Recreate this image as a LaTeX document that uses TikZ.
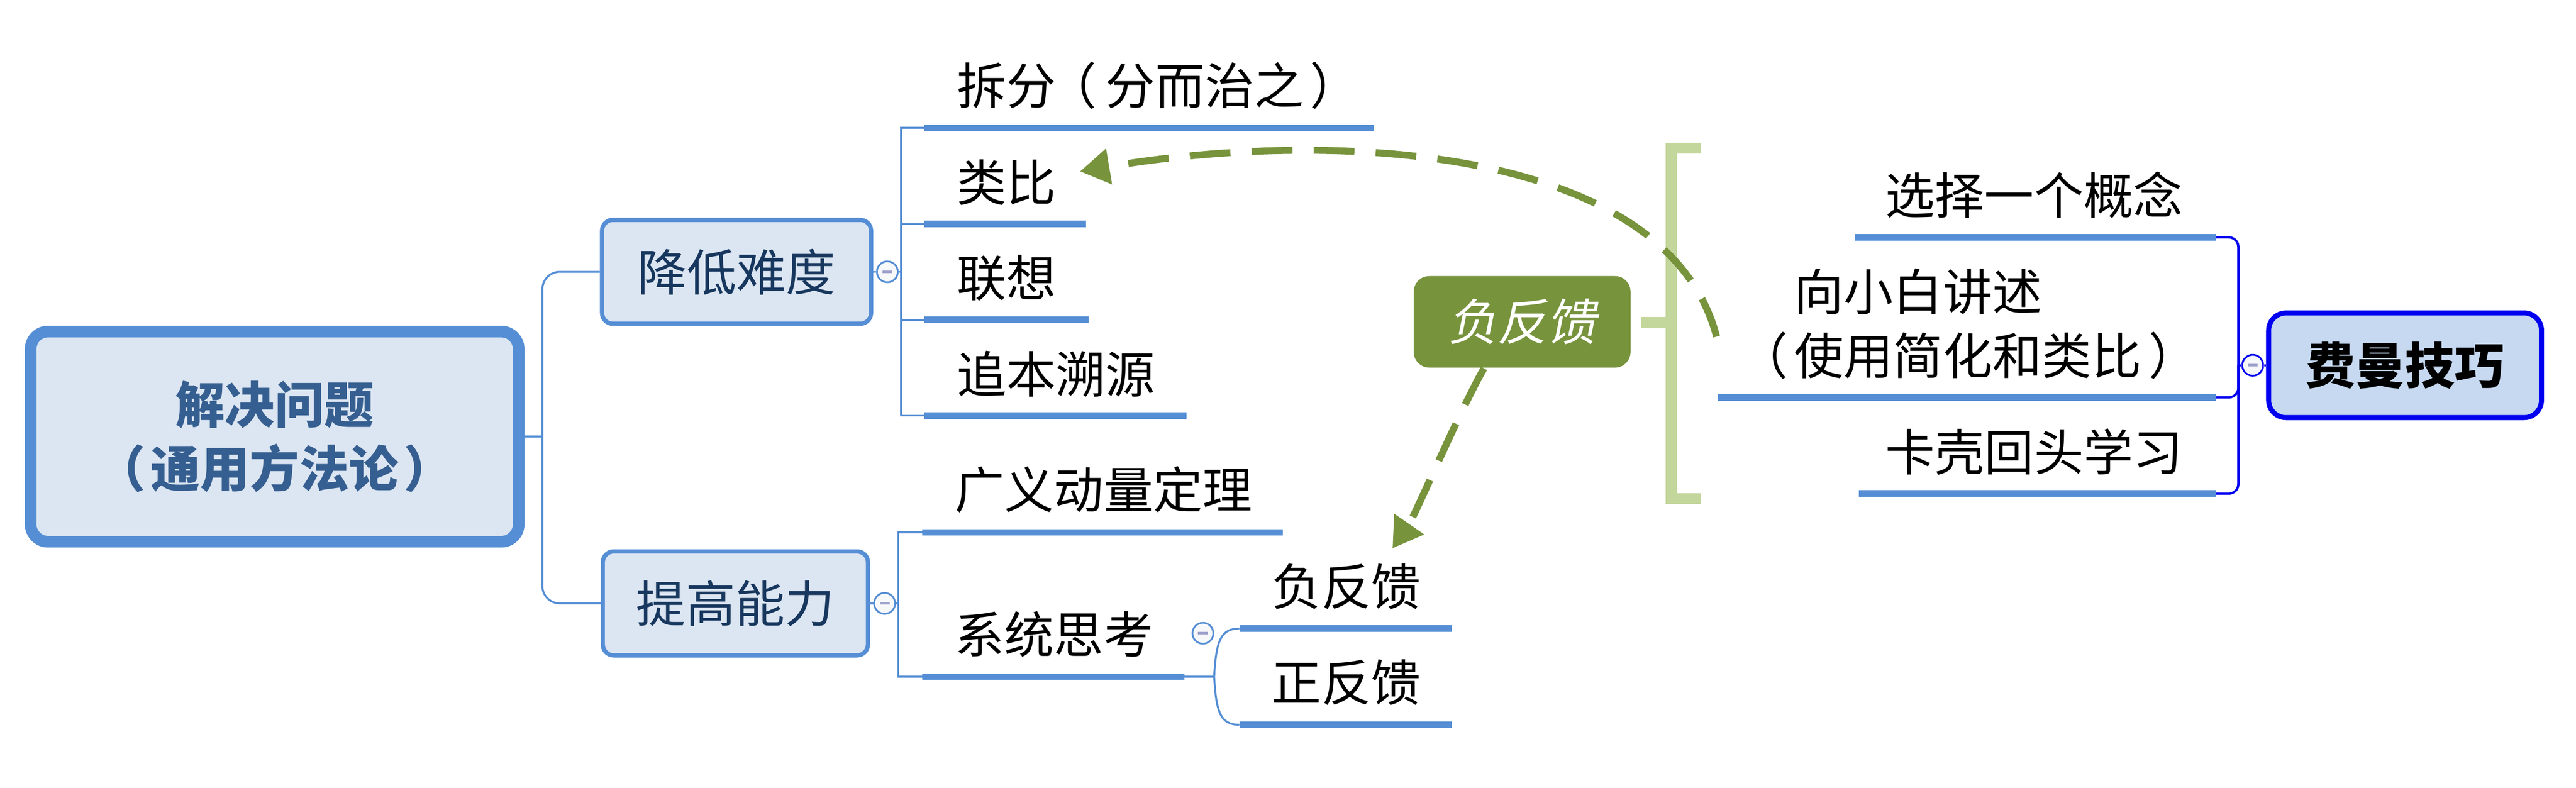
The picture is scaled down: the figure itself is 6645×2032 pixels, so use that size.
\documentclass[tikz,border=0pt]{standalone}
\usepackage{fontspec}
\setmainfont{Noto Sans CJK SC}
\newfontfamily\slantfont[FakeSlant=0.2]{Noto Sans CJK SC}
\usetikzlibrary{arrows.meta}
\definecolor{lineblue}{HTML}{558ED5}
\definecolor{boxfill}{HTML}{DCE6F2}
\definecolor{roottext}{HTML}{365F91}
\definecolor{subtext}{HTML}{17375E}
\definecolor{olive}{HTML}{77933C}
\definecolor{bracketgreen}{HTML}{C3D69B}
\definecolor{fmblue}{HTML}{0000F0}
\definecolor{fmfill}{HTML}{C6D9F1}
\definecolor{btnfill}{HTML}{F7F8FA}
\definecolor{btnminus}{HTML}{A0A4CC}
\newcommand\txtsize{\fontsize{12.8pt}{16.5pt}\selectfont}
\begin{document}
\begin{tikzpicture}[x=0.1pt,y=-0.1pt,
 rootbox/.style={draw=lineblue, line width=3pt, fill=boxfill, rounded corners=4.5pt, minimum width=125.9pt, minimum height=54.2pt, inner sep=0pt, align=center, font=\txtsize\bfseries, text=roottext},
 mainbox/.style={draw=lineblue, line width=1.1pt, fill=boxfill, rounded corners=2.8pt, minimum width=69.4pt, minimum height=26.8pt, inner sep=0pt, font=\txtsize, text=subtext},
 fmbox/.style={draw=fmblue, line width=1.3pt, fill=fmfill, rounded corners=4.5pt, minimum width=70.4pt, minimum height=27pt, inner sep=0pt, font=\txtsize\bfseries, text=black},
 greenbox/.style={fill=olive, rounded corners=4pt, minimum width=55.9pt, minimum height=23.6pt, inner sep=0pt, font=\txtsize\slantfont, text=white},
 leaf/.style={inner sep=0pt, font=\txtsize, text=black},
 uline/.style={draw=lineblue, line width=1.7pt},
 conn/.style={draw=lineblue, line width=0.5pt},
 fconn/.style={draw=fmblue, line width=0.6pt},
 btn/.style={circle, draw=#1, line width=0.45pt, fill=btnfill, minimum size=5.4pt, inner sep=0pt,
   path picture={\fill[btnminus] ([xshift=-1.25pt,yshift=-0.35pt]path picture bounding box.center) rectangle ++(2.5pt,0.7pt);}},
 garrow/.style={draw=olive, line width=1.8pt, dash pattern=on 10.5pt off 5.5pt, -{Triangle[length=7.6pt,width=8.9pt]}},
]
\useasboundingbox (0,0) rectangle (6645,2032);
\fill[white] (0,0) rectangle (6645,2032);

% bracket
\fill[bracketgreen] (4297,368) rectangle (4326,1300);
\fill[bracketgreen] (4297,368) rectangle (4388,396);
\fill[bracketgreen] (4297,1272) rectangle (4388,1300);
\fill[bracketgreen] (4234,817) rectangle (4297,846);

% main boxes
\node[rootbox] (root) at (708.5,1126) {解决问题\\\kern-0.1em（\kern0.1em通用方法论\kern0.1em）\kern-0.1em};
\node[mainbox] (b1) at (1900,701) {降低难度};
\node[mainbox, minimum width=68.4pt] (b2) at (1897,1556) {提高能力};
\node[fmbox] (fm) at (6204,942) {费曼技巧};
\node[greenbox] (fb) at (3926.5,830) {负反馈};

% buttons
\node[btn=lineblue] (c1) at (2289,701) {};
\node[btn=lineblue] (c2) at (2282,1556) {};
\node[btn=lineblue] (c3) at (3103,1633) {};
\node[btn=fmblue] (c4) at (5811,942) {};

% trunk coordinates
\coordinate (t0) at (1399,1126);
\coordinate (t1) at (2324,701);
\coordinate (t2) at (2317,1556);
\coordinate (t3) at (3132,1745);
\coordinate (t4) at (5774,942);

% underline coordinates
\coordinate (u1s) at (2384,330);  \coordinate (u1e) at (3544,330);
\coordinate (u2s) at (2384,577);  \coordinate (u2e) at (2802,577);
\coordinate (u3s) at (2384,825);  \coordinate (u3e) at (2808,825);
\coordinate (u4s) at (2384,1072); \coordinate (u4e) at (3060,1072);
\coordinate (u5s) at (2379,1373); \coordinate (u5e) at (3309,1373);
\coordinate (u6s) at (2379,1745); \coordinate (u6e) at (3056,1745);
\coordinate (u7s) at (3197,1621); \coordinate (u7e) at (3745,1621);
\coordinate (u8s) at (3197,1869); \coordinate (u8e) at (3745,1869);
\coordinate (u9s) at (4785,612);  \coordinate (u9e) at (5716,612);
\coordinate (u10s) at (4431,1025); \coordinate (u10e) at (5716,1025);
\coordinate (u11s) at (4795,1273); \coordinate (u11e) at (5716,1273);

% leaf texts
\node[leaf, anchor=west] (l1) at (2466,221) {拆分\kern-0.18em（\kern0.18em分而治之\kern0.12em）};
\node[leaf, anchor=west] (l2) at (2466,470) {类比};
\node[leaf, anchor=west] (l3) at (2466,717) {联想};
\node[leaf, anchor=west] (l4) at (2466,965) {追本溯源};
\node[leaf, anchor=west] (l5) at (2461,1263) {广义动量定理};
\node[leaf, anchor=west] (l6) at (2461,1635) {系统思考};
\node[leaf, anchor=west] (l7) at (3279,1512) {负反馈};
\node[leaf, anchor=west] (l8) at (3279,1760) {正反馈};
\node[leaf, anchor=east] (l9) at (5633,503) {选择一个概念};
\node[leaf, anchor=west, align=left] (l10) at (4626,835) {向小白讲述\\\llap{（\kern0.12em}使用简化和类比\kern0.15em）};
\node[leaf, anchor=east] (l11) at (5633,1165) {卡壳回头学习};

% root connectors
\draw[conn] (root.east) -- (t0);
\draw[conn, rounded corners=4.5pt] (b1.west) -| (t0);
\draw[conn, rounded corners=4.5pt] (b2.west) -| (t0);

% branch 1
\draw[conn] (b1.east) -- (c1.west);
\draw[conn] (c1.east) -- (t1);
\foreach \i in {1,2,3,4} {\draw[conn] (t1) |- (u\i s);}
% branch 2
\draw[conn] (b2.east) -- (c2.west);
\draw[conn] (c2.east) -- (t2);
\foreach \i in {5,6} {\draw[conn] (t2) |- (u\i s);}
% sub branch
\draw[conn] (u6e) -- (t3);
\draw[conn] (t3) .. controls (3137,1650) and (3150,1621) .. (u7s);
\draw[conn] (t3) .. controls (3137,1840) and (3150,1869) .. (u8s);
% feynman
\draw[fconn] (fm.west) -- (c4.east);
\draw[fconn] (c4.west) -- (t4);
\foreach \i in {9,10,11} {\draw[fconn, rounded corners=2.5pt] (u\i e) -| (t4);}

% underlines
\foreach \i in {1,...,11} {\draw[uline] (u\i s) -- (u\i e);}

% dashed arrows
\coordinate (a1s) at (4428,868);
\coordinate (a1e) at (2786,442);
\draw[garrow] (a1s) .. controls (4300,380) and (3450,330) .. (a1e);
\coordinate (a2e) at (3592,1414);
\draw[garrow] ([xshift=-9.85pt]fb.south) .. controls (3760,1070) and (3650,1330) .. (a2e);
\end{tikzpicture}
\end{document}
